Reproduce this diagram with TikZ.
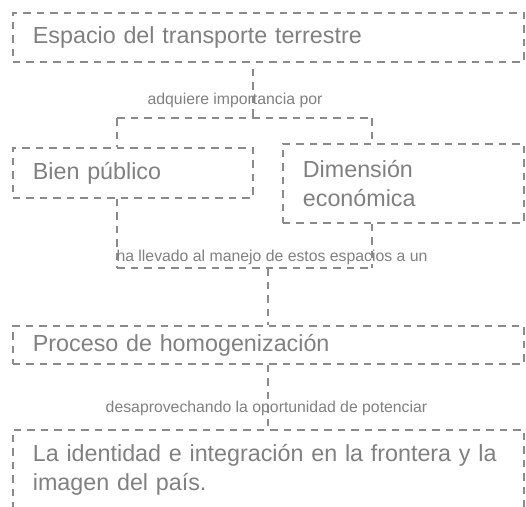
\documentclass[tikz,border=0pt]{standalone}
\usepackage{fontspec}
\setmainfont{Liberation Sans}
\definecolor{tc}{RGB}{128,128,128}
\definecolor{lc}{RGB}{138,138,138}
\begin{document}
\begin{tikzpicture}[x=1pt,y=1pt,
  conn/.style={draw=lc, line width=1.8pt, dash pattern=on 7.5pt off 6pt},
  box/.style={conn, anchor=north west, inner xsep=20pt, inner ysep=0pt, align=left, text=tc,
    font=\fontsize{23.3}{29.5}\selectfont},
  lbl/.style={text=tc, font=\fontsize{15.8}{19}\selectfont, inner sep=0pt}]
\useasboundingbox (0,0) rectangle (526,-506);
\clip (0,0) rectangle (526,-506);
% boxes
\node[box, text width=471pt, minimum height=49pt] (b1) at (12,-12) {Espacio del transporte terrestre};
\node[box, text width=200pt, minimum height=50pt] (b2) at (12,-147) {Bien público};
\node[box, text width=201pt, minimum height=79pt] (b3) at (282,-143) {Dimensión\\económica};
\node[box, text width=471pt, minimum height=38pt] (b4) at (12,-325) {Proceso de homogenización};
\node[box, text width=471pt, minimum height=80pt] (b5) at (12,-429) {\mbox{La identidad e integración en la frontera y la}\\imagen del país.};
% labels
\node[lbl] (l1) at (235,-100) {adquiere importancia por};
\node[lbl] (l2) at (272,-257) {ha llevado al manejo de estos espacios a un};
\node[lbl] (l3) at (266.5,-408) {desaprovechando la oportunidad de potenciar};
% fork coordinates
\coordinate (f1) at (253,-118);
\coordinate (fL1) at (117,-118);
\coordinate (fR1) at (372,-118);
\coordinate (f2) at (268,-268);
\coordinate (fL2) at (117,-268);
\coordinate (fR2) at (372,-268);
% connectors
\draw[conn, dash phase=7.5pt] (b1.south -| f1) -- (f1);
\draw[conn] (fL1) -- (fR1);
\draw[conn] (fL1) -- (fL1 |- b2.north);
\draw[conn] (fR1) -- (fR1 |- b3.north);
\draw[conn] (fL2 |- b2.south) -- (fL2);
\draw[conn] (fR2 |- b3.south) -- (fR2);
\draw[conn] (fL2) -- (fR2);
\draw[conn] (f2) -- (f2 |- b4.north);
\draw[conn] (b4.south -| f2) -- (b5.north -| f2);
\end{tikzpicture}
\end{document}
